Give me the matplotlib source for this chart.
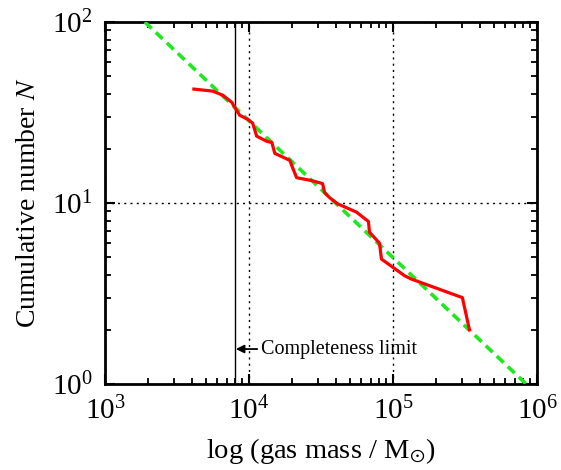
import matplotlib
matplotlib.use('Agg')
import matplotlib.pyplot as plt
import numpy as np

plt.rcParams['font.family'] = ['Liberation Serif', 'DejaVu Serif']
plt.rcParams['mathtext.fontset'] = 'stix'

# cumulative mass function
mass = [4140, 5600, 6570, 7590, 7960, 8620, 9800, 10600, 11300, 13300,
        14400, 15100, 19200, 19800, 21400, 27200, 32400, 33500, 36300, 41200,
        55800, 67500, 68600, 80500, 83100, 120000, 134000, 303000, 339000]
count = [42.6, 41.5, 39.4, 36.0, 33.8, 30.5, 29.0, 27.6, 23.4, 21.9,
         21.6, 18.8, 17.2, 16.1, 13.8, 13.3, 12.8, 11.4, 10.7, 9.9,
         8.9, 7.9, 6.9, 6.0, 4.9, 3.97, 3.8, 3.0, 2.0]

# power-law fit line endpoints
fit_mass = [1.89e3, 8.4e5]
fit_count = [100, 1]

completeness = 8.0e3

fig = plt.figure(figsize=(5.61, 4.70), dpi=100)
ax = fig.add_axes([0.1872, 0.1830, 0.7701, 0.7702])

ax.set_xscale('log')
ax.set_yscale('log')
ax.set_xlim(1e3, 1e6)
ax.set_ylim(1, 100)

ax.grid(True, which='major', linestyle=(0, (1.5, 3)), color='k', linewidth=1.0)
ax.axvline(completeness, color='k', linewidth=1.0)

ax.plot(fit_mass, fit_count, linestyle=(0, (2.6, 1.6)), color='#1ee81e', linewidth=2.6, zorder=3)
ax.plot(mass, count, color='#ff0000', linewidth=2.3, zorder=4)

ax.annotate('Completeness limit', xy=(8.1e3, 1.56), xytext=(1.22e4, 1.56),
            fontsize=14.5, va='center', ha='left',
            arrowprops=dict(arrowstyle='-|>', color='k', lw=1.3,
                            shrinkA=1, shrinkB=0, mutation_scale=12))

ax.set_xlabel('log (gas mass / M$_{\\odot}$)', fontsize=20.5, labelpad=8)
ax.set_ylabel('Cumulative number $N$', fontsize=20, labelpad=8)

ax.tick_params(which='both', direction='in', top=True, right=True, labelsize=21)
ax.tick_params(which='major', length=7, width=1.5, pad=9)
ax.tick_params(which='minor', length=4, width=1.3)
for s in ax.spines.values():
    s.set_linewidth(2)

fig.savefig('out.png', dpi=100)
